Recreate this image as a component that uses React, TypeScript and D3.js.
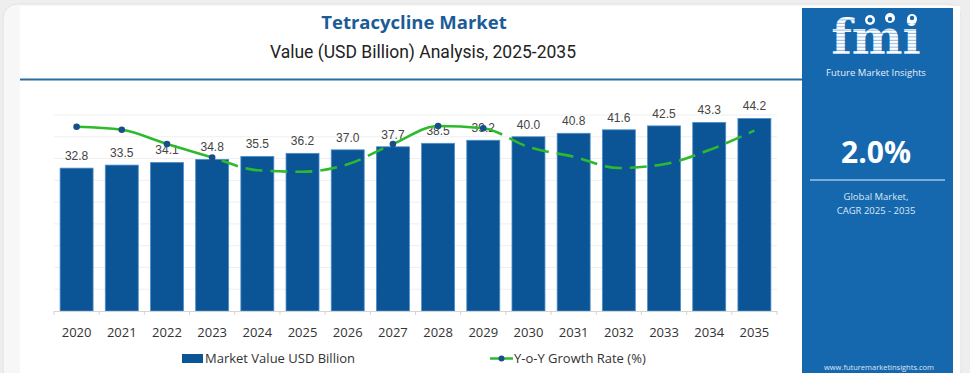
import * as d3 from 'd3';

const years = ['2020', '2021', '2022', '2023', '2024', '2025', '2026', '2027', '2028', '2029', '2030', '2031', '2032', '2033', '2034', '2035'];
const marketValue = [32.8, 33.5, 34.1, 34.8, 35.5, 36.2, 37.0, 37.7, 38.5, 39.2, 40.0, 40.8, 41.6, 42.5, 43.3, 44.2];
const growthRate = [2.31, 2.27, 2.08, 1.9, 1.73, 1.71, 1.81, 2.08, 2.32, 2.29, 2.04, 1.91, 1.76, 1.81, 2.0, 2.26];
// parts of the growth line drawn solid with markers (the rest is dashed)
const solidRanges = [['2020', '2023'], ['2027', '2029']];
const gridTicks = [5, 10, 15, 20, 25, 30, 35, 40, 45];

const W = 970;
const H = 373;
const BAR = '#0b5596';
const GREEN = '#2dbb2d';
const DOT = '#174f8c';

export default function App() {
  const x = d3.scaleBand().domain(years).range([54, 777]).paddingInner(0.27).paddingOuter(0.135);
  const y = d3.scaleLinear().domain([0, 45]).range([311, 115]);
  const y2 = d3.scaleLinear().domain([1.6, 2.4]).range([180, 120]);
  const cx = (yr: string) => (x(yr) || 0) + x.bandwidth() / 2;

  const line = d3
    .line<number>()
    .x((_, i) => cx(years[i]))
    .y(d => y2(d))
    .curve(d3.curveMonotoneX);
  const growthPath = line(growthRate) || '';

  const solidClips = solidRanges.map(([a, b]) => [cx(a) - 2, cx(b) + 2]);
  const dotIdx = growthRate
    .map((_, i) => i)
    .filter(i => solidRanges.some(([a, b]) => years[i] >= a && years[i] <= b));

  const step = x.step();
  const boundaries = d3.range(years.length + 1).map(i => 54 + i * step);

  return (
    <svg width={W} height={H} style={{ position: 'absolute', left: 0, top: 0, background: '#eeeeee' }}>
      <defs>
        <clipPath id="solid-clip">
          {solidClips.map(([a, b], i) => (
            <rect key={i} x={a} y={0} width={b - a} height={H} />
          ))}
        </clipPath>
        <mask id="dash-mask">
          <rect x={0} y={0} width={W} height={H} fill="white" />
          {solidClips.map(([a, b], i) => (
            <rect key={i} x={a} y={0} width={b - a} height={H} fill="black" />
          ))}
        </mask>
        <pattern id="stripes" width={4} height={3.4} patternUnits="userSpaceOnUse">
          <rect width={4} height={3.4} fill="#ffffff" />
          <rect y={2.4} width={4} height={1} fill="#8db5dd" />
        </pattern>
      </defs>

      {/* card */}
      <rect x={3} y={4} width={958} height={380} rx={14} fill="#f7f7f7" stroke="#e2e2e2" />
      <rect x={20} y={6} width={940} height={375} fill="#ffffff" />

      {/* titles */}
      <text x={414} y={29} textAnchor="middle" fontFamily="'Open Sans', sans-serif" fontWeight={700} fontSize={18.5} fill="#1b5c97">
        Tetracycline Market
      </text>
      <text x={423} y={58} textAnchor="middle" fontFamily="Roboto, sans-serif" fontSize={17.5} fill="#222">
        Value (USD Billion) Analysis, 2025-2035
      </text>
      <line x1={20} x2={802} y1={79.5} y2={79.5} stroke="#2b6c9e" strokeWidth={2} />

      {/* grid */}
      {gridTicks.map(t => (
        <line key={t} x1={54} x2={777} y1={y(t)} y2={y(t)} stroke="#efefef" strokeWidth={1} />
      ))}

      {/* bars */}
      {years.map((yr, i) => (
        <rect
          key={yr}
          x={x(yr)}
          y={y(marketValue[i])}
          width={x.bandwidth()}
          height={y(0) - y(marketValue[i])}
          fill={BAR}
          stroke="#4d8fcc"
          strokeWidth={0.8}
        />
      ))}

      {/* value labels */}
      {years.map((yr, i) => (
        <text
          key={yr}
          x={cx(yr)}
          y={y(marketValue[i]) - 8}
          textAnchor="middle"
          fontFamily="'Liberation Sans', Arial, sans-serif"
          fontSize={12}
          fill="#444"
        >
          {marketValue[i].toFixed(1)}
        </text>
      ))}

      {/* growth line */}
      <path d={growthPath} fill="none" stroke={GREEN} strokeWidth={2.6} strokeDasharray="17 8" mask="url(#dash-mask)" />
      <path d={growthPath} fill="none" stroke={GREEN} strokeWidth={2.6} clipPath="url(#solid-clip)" />
      {dotIdx.map(i => (
        <circle key={i} cx={cx(years[i])} cy={y2(growthRate[i])} r={3.3} fill={DOT} />
      ))}

      {/* x axis */}
      <line x1={54} x2={777} y1={311.5} y2={311.5} stroke="#d4d4d4" />
      {boundaries.map((b, i) => (
        <line key={i} x1={b} x2={b} y1={311} y2={315} stroke="#d4d4d4" />
      ))}
      {years.map(yr => (
        <text key={yr} x={cx(yr)} y={337} textAnchor="middle" fontFamily="'Open Sans', sans-serif" fontSize={13} fill="#333">
          {yr}
        </text>
      ))}

      {/* legend */}
      <rect x={182} y={354} width={21} height={9} fill={BAR} />
      <text x={205} y={362.5} fontFamily="'Open Sans', sans-serif" fontSize={13} fill="#333">
        Market Value USD Billion
      </text>
      <line x1={490} x2={513} y1={358.5} y2={358.5} stroke={GREEN} strokeWidth={2.5} />
      <circle cx={501.5} cy={358.5} r={3} fill={DOT} />
      <text x={514} y={362.5} fontFamily="'Open Sans', sans-serif" fontSize={13} fill="#333">
        Y-o-Y Growth Rate (%)
      </text>

      {/* side panel */}
      <rect x={802} y={8} width={151} height={370} fill="#1567ae" />
      <g>
        <text x={876} y={54} textAnchor="middle" fontFamily="'DejaVu Serif', serif" fontWeight={700} fontSize={48} fill="url(#stripes)">
          fmi
        </text>
        <circle cx={870} cy={20} r={5} fill="#ffffff" />
        <circle cx={870} cy={20} r={2.5} fill="#1567ae" />
        <circle cx={890} cy={18} r={5} fill="#ffffff" />
        <circle cx={890} cy={19} r={2.2} fill="#1567ae" />
        <circle cx={912} cy={19} r={5} fill="#ffffff" />
        <circle cx={912} cy={18} r={2.2} fill="#1567ae" />
        <text x={876} y={76} textAnchor="middle" fontFamily="'Open Sans', sans-serif" fontSize={9.5} fill="#e6f0fa">
          Future Market Insights
        </text>
      </g>
      <text x={876} y={163} textAnchor="middle" fontFamily="'Open Sans', sans-serif" fontWeight={700} fontSize={30} fill="#ffffff">
        2.0%
      </text>
      <line x1={810} x2={945} y1={180} y2={180} stroke="#9fc2e4" strokeWidth={1.5} />
      <text x={876} y={200} textAnchor="middle" fontFamily="'Open Sans', sans-serif" fontSize={9.5} fill="#dbe8f5">
        Global Market,
      </text>
      <text x={876} y={214} textAnchor="middle" fontFamily="'Open Sans', sans-serif" fontSize={9.5} fill="#dbe8f5">
        CAGR 2025 - 2035
      </text>
      <text x={879} y={370} textAnchor="middle" fontFamily="'Open Sans', sans-serif" fontSize={7.5} fill="#dbe8f5">
        www.futuremarketinsights.com
      </text>
    </svg>
  );
}
